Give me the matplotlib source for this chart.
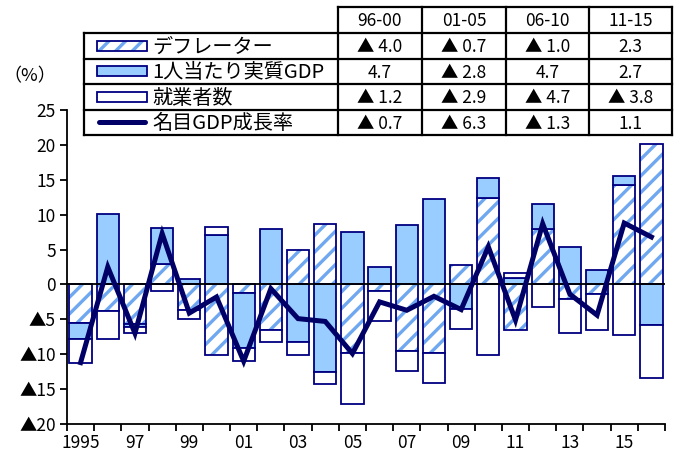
import matplotlib
matplotlib.use("Agg")
import matplotlib.pyplot as plt
import numpy as np
from matplotlib.patches import Rectangle

plt.rcParams["font.family"] = ["Noto Sans CJK JP", "DejaVu Sans"]
plt.rcParams["hatch.linewidth"] = 2.4

# data (%)
years = list(range(1995, 2017))
deflator = [-5.5, -3.8, -5.7, 3.0, -3.7, -10.1, -1.2, -6.5, 5.0, 8.7, -9.8,
            -0.9, -9.5, -9.8, 2.8, 12.4, -6.5, 8.0, -2.1, -1.4, 14.3, 20.1]
real_gdp = [-2.3, 10.1, -0.4, 5.1, 0.8, 7.1, -7.9, 7.9, -8.3, -12.6, 7.5,
            2.5, 8.5, 12.2, -3.5, 2.9, 0.9, 3.6, 5.4, 2.1, 1.2, -5.8]
employment = [-3.5, -4.0, -0.9, -0.9, -1.2, 1.1, -1.8, -1.8, -1.8, -1.7, -7.4,
              -4.3, -2.9, -4.3, -2.9, -10.1, 0.7, -3.2, -4.8, -5.2, -7.2, -7.6]
nominal = [-11.2, 2.5, -7.0, 7.3, -4.1, -1.8, -11.0, -0.6, -4.9, -5.3, -9.9,
           -2.5, -3.7, -1.7, -3.6, 5.4, -5.1, 8.7, -1.4, -4.4, 8.8, 6.8]

periods = ["96-00", "01-05", "06-10", "11-15"]
tbl_deflator = [-4.0, -0.7, -1.0, 2.3]
tbl_real = [4.7, -2.8, 4.7, 2.7]
tbl_emp = [-1.2, -2.9, -4.7, -3.8]
tbl_nominal = [-0.7, -6.3, -1.3, 1.1]
row_names = ["デフレーター", "1人当たり実質GDP", "就業者数", "名目GDP成長率"]

NAVY = "#000080"
LINE = "#000066"
LIGHT = "#99CCFF"
HATCH = "#6FA8F0"


def fmt(v):
    return f"▲ {abs(v):.1f}" if v < 0 else f"{v:.1f}"


fig = plt.figure(figsize=(6.85, 4.61), dpi=100)
ax = fig.add_axes([67 / 685, 1 - 424 / 461, 598 / 685, 314 / 461])

x = np.arange(len(years))
w = 0.82
pos = np.zeros(len(years))
neg = np.zeros(len(years))
for vals, kind in [(deflator, "hatch"), (real_gdp, "light"), (employment, "white")]:
    v = np.array(vals)
    bottom = np.where(v >= 0, pos, neg)
    if kind == "hatch":
        ax.bar(x, v, w, bottom=bottom, facecolor="white", edgecolor=HATCH,
               hatch="//", linewidth=0, zorder=2)
        ax.bar(x, v, w, bottom=bottom, fill=False, edgecolor=NAVY,
               linewidth=1.3, zorder=3)
    else:
        ax.bar(x, v, w, bottom=bottom, facecolor=LIGHT if kind == "light" else "white",
               edgecolor=NAVY, linewidth=1.3, zorder=3)
    pos = pos + np.where(v >= 0, v, 0)
    neg = neg + np.where(v < 0, v, 0)

ax.axhline(0, color="black", lw=1.3, zorder=4)
ax.plot(x, nominal, color=LINE, lw=3.6, zorder=5, solid_joinstyle="miter")

ax.set_xlim(-0.5, len(years) - 0.5)
ax.set_ylim(-20, 25)
yt = np.arange(-20, 26, 5)
ax.set_yticks(yt)
ax.set_yticklabels([f"▲{abs(t)}" if t < 0 else str(t) for t in yt], fontsize=12.5)
ax.set_xticks(np.arange(-0.5, len(years), 1))
ax.set_xticklabels([])
ax.set_xticks(x[::2], minor=True)
ax.set_xticklabels([str(y) if y == 1995 else f"{y % 100:02d}" for y in years[::2]],
                   minor=True, fontsize=12.5)
ax.tick_params(axis="x", which="major", length=5, width=1.3, direction="out")
ax.tick_params(axis="x", which="minor", length=0, pad=7)
ax.tick_params(axis="y", length=5, width=1.3, direction="out", pad=3)
for s in ["top", "right"]:
    ax.spines[s].set_visible(False)
for s in ["left", "bottom"]:
    ax.spines[s].set_linewidth(1.3)
fig.text(30 / 685, 1 - 76 / 461, "（%）", fontsize=13, ha="center", va="center")

# table on top, laid out in pixel units
tx = fig.add_axes([0, 0, 1, 1], zorder=10)
tx.set_xlim(0, 685)
tx.set_ylim(461, 0)
tx.axis("off")
col_x = [338, 422, 506, 589, 672]
row_y = [7, 33, 59, 84, 110, 135]
left = 84
tx.add_patch(Rectangle((col_x[0], row_y[0]), col_x[-1] - col_x[0], row_y[1] - row_y[0],
                       facecolor="white", edgecolor="none"))
tx.add_patch(Rectangle((left, row_y[1]), col_x[-1] - left, row_y[-1] - row_y[1],
                       facecolor="white", edgecolor="none"))
lw = 1.6
tx.plot([col_x[0], col_x[-1]], [row_y[0], row_y[0]], color="black", lw=lw)
for yy in row_y[1:]:
    tx.plot([left, col_x[-1]], [yy, yy], color="black", lw=lw)
tx.plot([left, left], [row_y[1], row_y[-1]], color="black", lw=lw)
for xx in col_x:
    tx.plot([xx, xx], [row_y[0], row_y[-1]], color="black", lw=lw)

for j, p in enumerate(periods):
    tx.text((col_x[j] + col_x[j + 1]) / 2, (row_y[0] + row_y[1]) / 2 + 1, p,
            ha="center", va="center", fontsize=12.5)

table_rows = [tbl_deflator, tbl_real, tbl_emp, tbl_nominal]
for i, (name, vals) in enumerate(zip(row_names, table_rows)):
    yc = (row_y[i + 1] + row_y[i + 2]) / 2
    if i == 0:
        tx.add_patch(Rectangle((97, yc - 5), 50, 10, facecolor="white", edgecolor=HATCH,
                               hatch="//", linewidth=0))
        tx.add_patch(Rectangle((97, yc - 5), 50, 10, fill=False, edgecolor=NAVY, lw=1.3))
    elif i == 1:
        tx.add_patch(Rectangle((97, yc - 5), 50, 10, facecolor=LIGHT, edgecolor=NAVY, lw=1.3))
    elif i == 2:
        tx.add_patch(Rectangle((97, yc - 5), 50, 10, facecolor="white", edgecolor=NAVY, lw=1.3))
    else:
        tx.plot([99, 145], [yc, yc], color=LINE, lw=3.6, solid_capstyle="round")
    tx.text(152, yc + 1, name, ha="left", va="center", fontsize=14.5)
    for j, v in enumerate(vals):
        tx.text((col_x[j] + col_x[j + 1]) / 2, yc + 1, fmt(v),
                ha="center", va="center", fontsize=12.5)

fig.savefig("out.png", dpi=100)
